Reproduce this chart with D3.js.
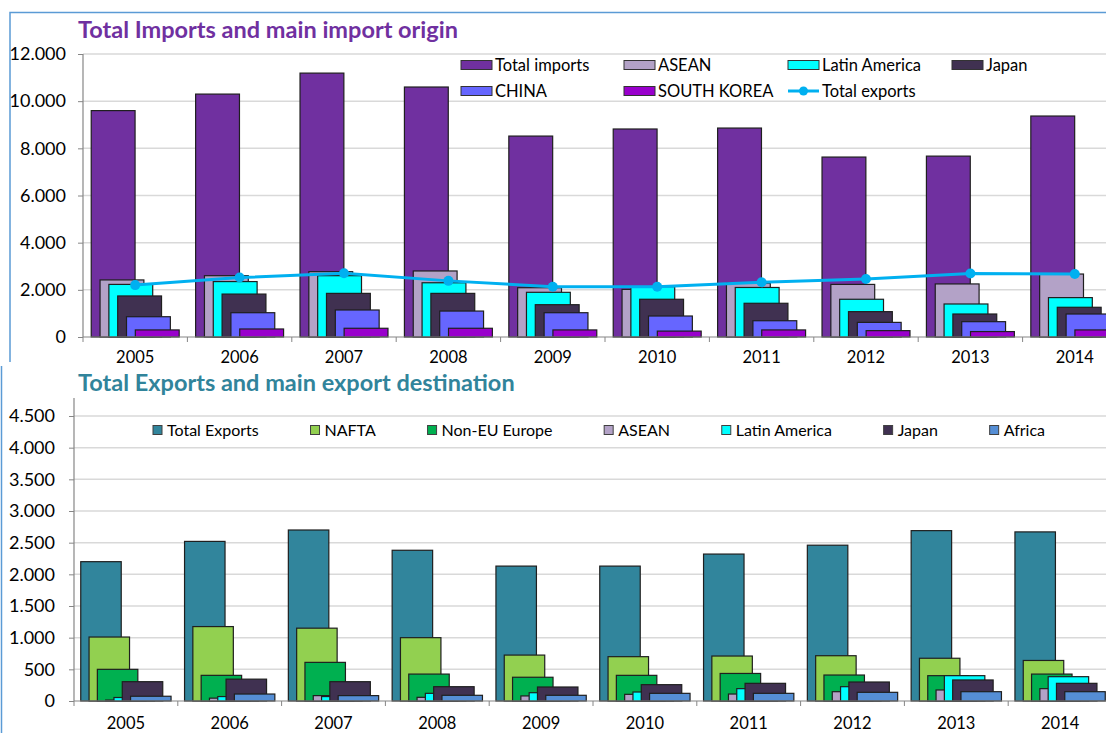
<!DOCTYPE html>
<html>
<head>
<meta charset="utf-8">
<script src="https://cdn.jsdelivr.net/npm/d3@7"></script>
<style>
  body { margin: 0; background: #fff; }
  svg { display: block; font-family: Lato, "Open Sans", sans-serif; }
</style>
</head>
<body>
<script>
const years = ['2005', '2006', '2007', '2008', '2009', '2010', '2011', '2012', '2013', '2014'];

// imports (top chart)
const importSeries = ['Total imports', 'ASEAN', 'Latin America', 'Japan', 'CHINA', 'SOUTH KOREA'];
const totalImports = [9600, 10300, 11190, 10600, 8520, 8820, 8860, 7630, 7670, 9370];
const importsAsean = [2420, 2600, 2770, 2800, 2090, 2020, 2280, 2230, 2250, 2670];
const importsLatAm = [2230, 2350, 2600, 2300, 1895, 2135, 2100, 1600, 1400, 1670];
const importsJapan = [1740, 1820, 1850, 1850, 1370, 1600, 1430, 1075, 975, 1260];
const importsChina = [860, 1030, 1145, 1100, 1030, 890, 690, 620, 650, 975];
const importsKorea = [300, 340, 370, 370, 300, 250, 300, 270, 230, 300];

// exports (bottom chart + line on top chart)
const exportSeries = ['Total Exports', 'NAFTA', 'Non-EU Europe', 'ASEAN', 'Latin America', 'Japan', 'Africa'];
const totalExports = [2200, 2520, 2700, 2380, 2130, 2130, 2320, 2460, 2690, 2670];
const exportsNafta = [1010, 1175, 1150, 1000, 725, 700, 710, 715, 675, 640];
const exportsNonEU = [500, 405, 610, 425, 375, 405, 435, 410, 400, 425];
const exportsAsean = [15, 45, 85, 58, 80, 105, 110, 147, 174, 195];
const exportsLatAm = [55, 70, 70, 121, 131, 142, 195, 226, 400, 384];
const exportsJapan = [305, 345, 305, 226, 221, 258, 279, 300, 332, 279];
const exportsAfrica = [75, 110, 85, 90, 90, 121, 121, 137, 147, 147];

const importTicks = [0, 2000, 4000, 6000, 8000, 10000, 12000];
const exportTicks = [0, 500, 1000, 1500, 2000, 2500, 3000, 3500, 4000, 4500];

const importColors = ['#7030a0', '#b3a2c7', '#00ffff', '#403151', '#6666ff', '#9900cc'];
const exportColors = ['#31859c', '#92d050', '#00b050', '#b3a2c7', '#00ffff', '#403151', '#558ed5'];
const lineColor = '#00b0f0';

const importValues = [totalImports, importsAsean, importsLatAm, importsJapan, importsChina, importsKorea];
const exportValues = [totalExports, exportsNafta, exportsNonEU, exportsAsean, exportsLatAm, exportsJapan, exportsAfrica];

const fmt = d3.formatLocale({ decimal: ',', thousands: '.', grouping: [3], currency: ['', ''] }).format(',.0f');

const svg = d3.select('body').append('svg')
  .attr('width', 1106)
  .attr('height', 733);

// blue frame edges
svg.append('path')
  .attr('d', 'M10,362V12.5H1106')
  .attr('fill', 'none')
  .attr('stroke', '#5b9bd5')
  .attr('stroke-width', 1.5);
svg.append('line')
  .attr('x1', 1.5).attr('x2', 1.5).attr('y1', 366).attr('y2', 733)
  .attr('stroke', '#5b9bd5')
  .attr('stroke-width', 1.5);

function drawChart(opt) {
  const g = svg.append('g');
  const x = d3.scaleBand().domain(years).range(opt.xRange);
  const y = d3.scaleLinear().domain([0, opt.ticks[opt.ticks.length - 1]]).range(opt.yRange);
  const n = opt.values.length;
  const barW = x.step() * opt.barFrac;
  const off = x.step() * opt.offFrac;
  const groupW = barW + (n - 1) * off;
  const slot = d3.scaleLinear().domain([0, n - 1]).range([0, (n - 1) * off]);

  // gridlines
  g.selectAll('.grid')
    .data(opt.ticks.slice(1))
    .join('line')
    .attr('x1', opt.xRange[0]).attr('x2', opt.xRange[1])
    .attr('y1', d => y(d)).attr('y2', d => y(d))
    .attr('stroke', '#d9d9d9')
    .attr('stroke-width', 1.5);

  // y axis
  const ya = g.append('g')
    .attr('transform', 'translate(' + opt.xRange[0] + ',0)')
    .call(d3.axisLeft(y).tickValues(opt.ticks).tickFormat(fmt).tickSize(5).tickPadding(opt.yPad));
  ya.select('.domain').remove();
  ya.selectAll('line').attr('stroke', '#868686');
  ya.selectAll('text').attr('font-size', opt.yFont).attr('fill', '#000').attr('font-family', 'Lato, sans-serif');
  g.append('line')
    .attr('x1', opt.xRange[0]).attr('x2', opt.xRange[0])
    .attr('y1', opt.axisTop).attr('y2', opt.yRange[0])
    .attr('stroke', '#868686').attr('stroke-width', 1.2);

  // bars, series drawn in order so later ones sit on top
  opt.values.forEach((vals, i) => {
    g.append('g').selectAll('rect')
      .data(vals)
      .join('rect')
      .attr('x', (d, j) => x(years[j]) + x.bandwidth() / 2 - groupW / 2 + slot(i))
      .attr('y', d => y(d))
      .attr('width', barW)
      .attr('height', d => y(0) - y(d))
      .attr('fill', opt.colors[i])
      .attr('stroke', '#1f1f1f')
      .attr('stroke-width', 1.2);
  });

  // x axis
  g.append('line')
    .attr('x1', opt.xRange[0]).attr('x2', opt.xRange[1])
    .attr('y1', y(0)).attr('y2', y(0))
    .attr('stroke', '#868686').attr('stroke-width', 1.2);
  g.selectAll('.xtick')
    .data(years.map(d => x(d)).concat([opt.xRange[1]]))
    .join('line')
    .attr('x1', d => d).attr('x2', d => d)
    .attr('y1', y(0)).attr('y2', y(0) + 5)
    .attr('stroke', '#868686');
  const xa = g.append('g')
    .attr('transform', 'translate(0,' + y(0) + ')')
    .call(d3.axisBottom(x).tickSize(0).tickPadding(opt.xPad));
  xa.select('.domain').remove();
  xa.selectAll('text').attr('font-size', opt.xFont).attr('fill', '#000').attr('font-family', 'Lato, sans-serif');

  // title
  svg.append('text')
    .attr('x', 78)
    .attr('y', opt.titleY)
    .attr('fill', opt.titleColor)
    .attr('font-size', 23.5)
    .attr('font-weight', 'bold')
    .text(opt.title);

  return { g, x, y };
}

// ---- top chart ----
const topChart = drawChart({
  xRange: [83, 1127], yRange: [337, 54], axisTop: 54,
  ticks: importTicks, values: importValues, colors: importColors,
  barFrac: 0.42, offFrac: 0.0845,
  yPad: 12, yFont: 18, xPad: 14, xFont: 16.5,
  title: 'Total Imports and main import origin', titleY: 38, titleColor: '#7030a0'
});

// total exports line
const line = d3.line()
  .x((d, j) => topChart.x(years[j]) + topChart.x.bandwidth() / 2)
  .y(d => topChart.y(d));
topChart.g.append('path')
  .datum(totalExports)
  .attr('d', line)
  .attr('fill', 'none')
  .attr('stroke', lineColor)
  .attr('stroke-width', 3);
topChart.g.selectAll('.dot')
  .data(totalExports)
  .join('circle')
  .attr('cx', (d, j) => topChart.x(years[j]) + topChart.x.bandwidth() / 2)
  .attr('cy', d => topChart.y(d))
  .attr('r', 5)
  .attr('fill', lineColor);

// top legend (grid of 4 columns)
const legCols = [461, 624, 788, 952];
const legRows = [65, 91];
const topLegend = importSeries.map((s, i) => ({ name: s, color: importColors[i], type: 'bar' }))
  .concat([{ name: 'Total exports', color: lineColor, type: 'line' }]);
topLegend.forEach((item, pos) => {
  const lx = legCols[pos % 4];
  const ly = legRows[Math.floor(pos / 4)];
  if (item.type === 'bar') {
    svg.append('rect')
      .attr('x', lx).attr('y', ly - 4.5)
      .attr('width', 31).attr('height', 9)
      .attr('fill', item.color)
      .attr('stroke', '#333').attr('stroke-width', 1);
  } else {
    svg.append('line')
      .attr('x1', lx).attr('x2', lx + 31).attr('y1', ly).attr('y2', ly)
      .attr('stroke', item.color).attr('stroke-width', 3);
    svg.append('circle').attr('cx', lx + 15.5).attr('cy', ly).attr('r', 4.5).attr('fill', item.color);
  }
  svg.append('text')
    .attr('x', lx + 34).attr('y', ly + 5.5)
    .attr('font-size', 16.5).attr('fill', '#000')
    .text(item.name);
});

// ---- bottom chart ----
drawChart({
  xRange: [74, 1112], yRange: [701, 416], axisTop: 398,
  ticks: exportTicks, values: exportValues, colors: exportColors,
  barFrac: 0.39, offFrac: 0.08,
  yPad: 14, yFont: 18, xPad: 16, xFont: 16.5,
  title: 'Total Exports and main export destination', titleY: 391, titleColor: '#31849b'
});

// bottom legend, single row spread between two ends
const legY = 430;
const legStart = 153, legEnd = 1045;
const items = exportSeries.map((s, i) => {
  const t = svg.append('text')
    .attr('y', legY + 5.5)
    .attr('font-size', 16).attr('fill', '#000')
    .text(s);
  return { t, w: t.node().getComputedTextLength(), color: exportColors[i] };
});
const used = d3.sum(items, d => d.w + 14);
const gap = (legEnd - legStart - used) / (items.length - 1);
let cx = legStart;
items.forEach(it => {
  svg.append('rect')
    .attr('x', cx).attr('y', legY - 4.5)
    .attr('width', 9).attr('height', 9)
    .attr('fill', it.color)
    .attr('stroke', '#404040').attr('stroke-width', 1);
  it.t.attr('x', cx + 14);
  cx += 14 + it.w + gap;
});
</script>
</body>
</html>
